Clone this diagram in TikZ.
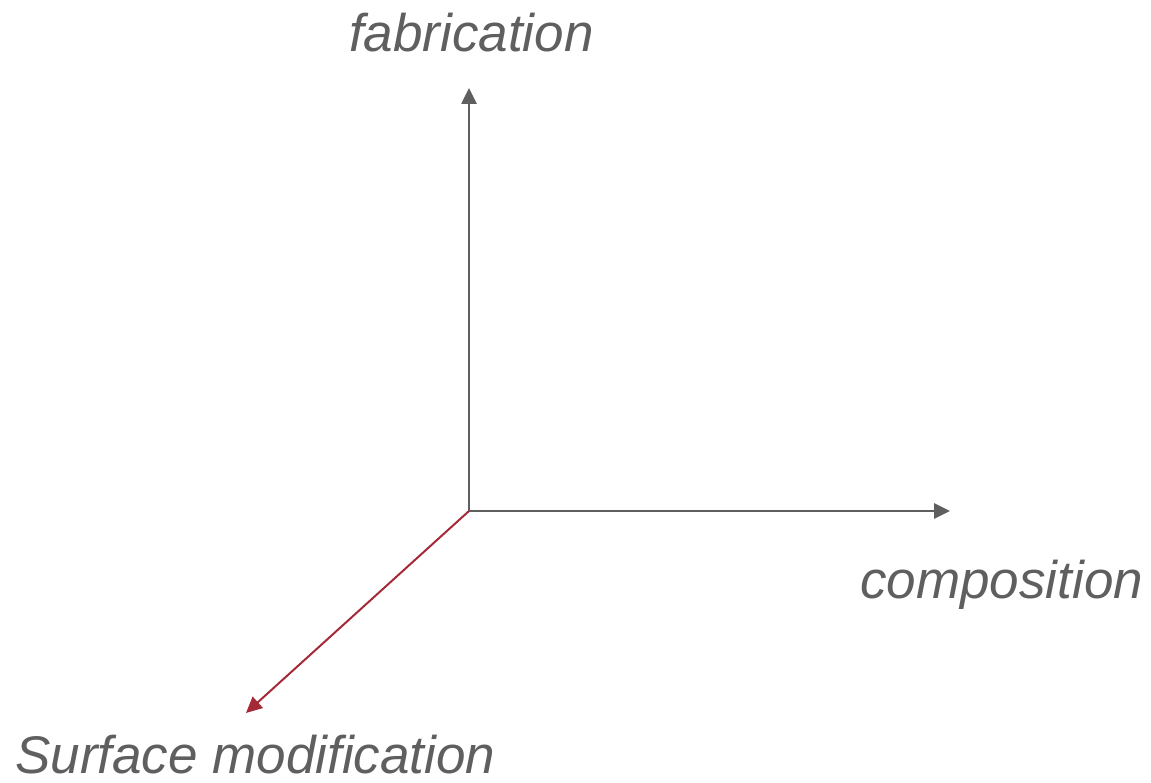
\documentclass[tikz,border=0pt]{standalone}
\usepackage{fontspec}
\setmainfont{Liberation Sans}
\usetikzlibrary{arrows.meta}

\definecolor{axisgray}{HTML}{5F5F5F}
\definecolor{axisred}{HTML}{A52A38}

\begin{document}
\begin{tikzpicture}[
    x=1pt, y=1pt,
    axis/.style={
      -{Triangle[length=16pt, width=15pt]},
      line width=2.6pt,
      draw=axisgray,
    },
    axislabel/.style={
      font=\fontsize{53}{60}\selectfont\itshape,
      text=axisgray,
      anchor=base west,
      inner sep=0pt,
    },
  ]
  \useasboundingbox (0,0) rectangle (1151,782);

  % --- Axis end points ---
  \coordinate (O) at (469,271);
  \coordinate (up) at (469,694);
  \coordinate (right) at (950,271);
  \coordinate (front) at (246,69);

  % --- Axes ---
  \draw[axis] (O) -- (up);
  \draw[axis] (O) -- (right);
  \draw[axis, draw=axisred, fill=axisred, line width=2pt] (O) -- (front);

  % --- Axis labels ---
  \node[axislabel] (fab) at (349,730) {fabrication};
  \node[axislabel] (comp) at (860,183) {composition};
  \node[axislabel] (surf) at (15,9) {Surface modification};

\end{tikzpicture}
\end{document}
